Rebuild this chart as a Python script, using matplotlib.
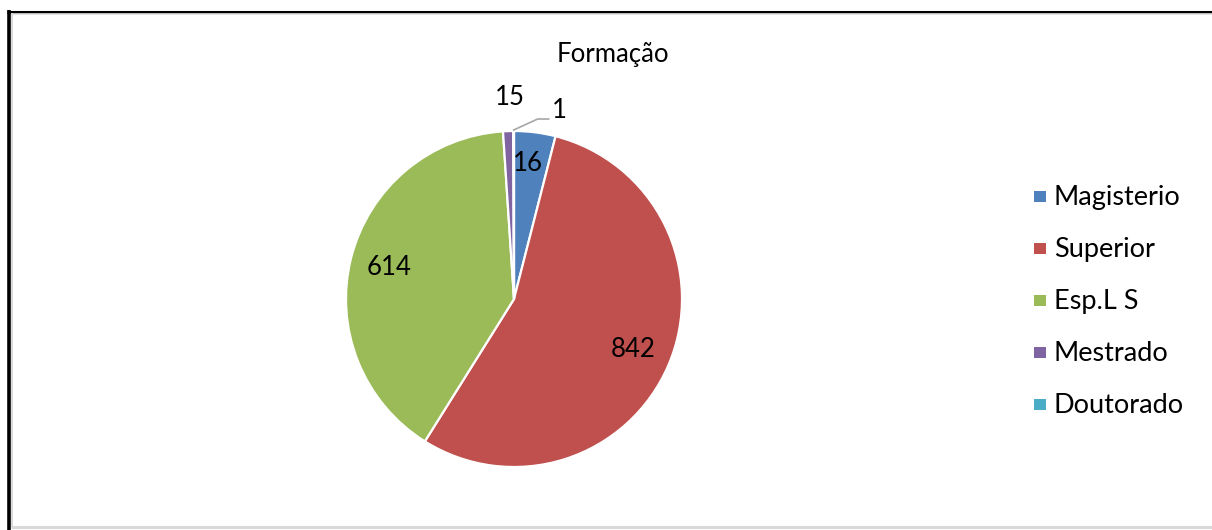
import numpy as np
import matplotlib
matplotlib.use("Agg")
import matplotlib.pyplot as plt
from matplotlib.patches import Rectangle
from matplotlib.lines import Line2D

# ---- data ----
title = "Formação"
categories = ["Magisterio", "Superior", "Esp.L S", "Mestrado", "Doutorado"]
slice_values = [61, 842, 614, 15, 1]          # slice sizes as drawn
label_texts = ["16", "842", "614", "15", "1"]  # data labels as printed
colors = ["#4F81BD", "#C0504D", "#9BBB59", "#8064A2", "#4BACC6"]

plt.rcParams['font.family'] = ['Lato', 'DejaVu Sans']

W, H = 1212, 530
fig = plt.figure(figsize=(W / 100, H / 100), dpi=100)
ax = fig.add_axes([0, 0, 1, 1])

def Y(y):  # top-based pixel -> data y
    return H - y

cx, cy, R = 514, Y(299), 168
wedges, _ = ax.pie(slice_values, colors=colors, startangle=90, counterclock=False,
                   center=(cx, cy), radius=R,
                   wedgeprops=dict(edgecolor="white", linewidth=1.6))
ax.set_xlim(0, W)
ax.set_ylim(0, H)
ax.set_aspect('equal')
ax.axis('off')

def mid(w):
    return np.deg2rad((w.theta1 + w.theta2) / 2)

lab_fs = 18.5
# inner labels
inner_r = [0.81, 0.77, 0.77]
for i in range(3):
    a = mid(wedges[i])
    if i == 0:
        a = a + np.deg2rad(1.5)
    ax.text(cx + inner_r[i] * R * np.cos(a), cy + inner_r[i] * R * np.sin(a),
            label_texts[i], ha='center', va='center', fontsize=lab_fs, color='black')

# Mestrado label outside
a = mid(wedges[3])
ax.text(cx + 1.2 * R * np.cos(a) + 3, cy + 1.2 * R * np.sin(a),
        label_texts[3], ha='center', va='center', fontsize=lab_fs, color='black')

# Doutorado label with leader line
a = mid(wedges[4])
ax_, ay_ = cx + R * np.cos(a), cy + R * np.sin(a) + 1
ax.add_line(Line2D([ax_, ax_ + 24, ax_ + 35], [ay_, ay_ + 11, ay_ + 11],
                   color="#A6A6A6", lw=1.2))
ax.text(ax_ + 46, ay_ + 20, label_texts[4], ha='center', va='center',
        fontsize=lab_fs, color='black')

# title
ax.text(613, Y(62), title, ha='center', va='baseline', fontsize=18.5, color='black')

# legend
for i, (cat, col) in enumerate(zip(categories, colors)):
    base = 205 + 52 * i
    ax.add_patch(Rectangle((1034, Y(base - 3)), 12, 11, facecolor=col, edgecolor='none'))
    ax.text(1054, Y(base), cat, ha='left', va='baseline', fontsize=19.5, color='black')

# chart border (black top/left, light gray inner/bottom)
ax.add_line(Line2D([7, W], [Y(11.5), Y(11.5)], color='black', lw=2.2, solid_capstyle='butt'))
ax.add_line(Line2D([8.8, 8.8], [Y(10), 0], color='black', lw=2.6, solid_capstyle='butt'))
ax.add_line(Line2D([11.5, W], [Y(13.5), Y(13.5)], color='#E0E0E0', lw=1.2, solid_capstyle='butt'))
ax.add_line(Line2D([11.5, 11.5], [Y(13), Y(527)], color='#D9D9D9', lw=1.4, solid_capstyle='butt'))
ax.add_line(Line2D([11, W], [Y(527), Y(527)], color='#D9D9D9', lw=2.2, solid_capstyle='butt'))

fig.savefig("out.png", dpi=100, facecolor='white')
